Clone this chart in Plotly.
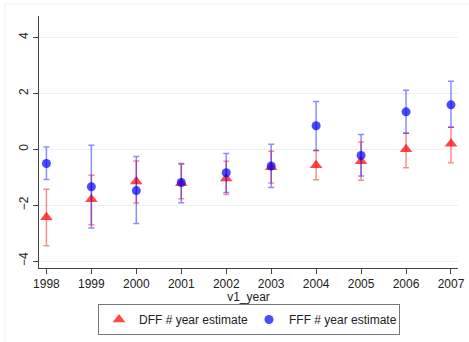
import plotly.graph_objects as go

years = [1998, 1999, 2000, 2001, 2002, 2003, 2004, 2005, 2006, 2007]

dff_est = [-2.43, -1.79, -1.15, -1.22, -1.05, -0.64, -0.57, -0.43, 0.00, 0.20]
dff_lo = [-3.45, -2.70, -1.92, -1.77, -1.62, -1.21, -1.09, -1.11, -0.66, -0.48]
dff_hi = [-1.43, -0.93, -0.42, -0.54, -0.43, -0.07, -0.04, 0.26, 0.57, 0.79]

fff_est = [-0.51, -1.34, -1.48, -1.19, -0.84, -0.60, 0.84, -0.22, 1.34, 1.59]
fff_lo = [-1.08, -2.82, -2.66, -1.91, -1.55, -1.37, -0.04, -0.96, 0.57, 0.79]
fff_hi = [0.08, 0.14, -0.26, -0.51, -0.15, 0.18, 1.71, 0.53, 2.11, 2.43]

y_ticks = [-4, -2, 0, 2, 4]
x_title = "v1_year"
names = ["DFF # year estimate", "FFF # year estimate"]

W, H = 469, 342
L, R, T, B = 39, 11, 16, 74
pw, ph = W - L - R, H - T - B

fig = go.Figure()
fig.add_trace(go.Scatter(
    x=years, y=dff_est, mode="markers", name=names[0],
    marker=dict(symbol="triangle-up", size=11, color="rgba(255,0,0,0.72)"),
    error_y=dict(type="data", symmetric=False,
                 array=[h - e for h, e in zip(dff_hi, dff_est)],
                 arrayminus=[e - l for e, l in zip(dff_est, dff_lo)],
                 color="rgba(255,0,0,0.45)", thickness=1.5, width=3),
))
fig.add_trace(go.Scatter(
    x=years, y=fff_est, mode="markers", name=names[1],
    marker=dict(symbol="circle", size=9, color="rgba(0,0,255,0.7)"),
    error_y=dict(type="data", symmetric=False,
                 array=[h - e for h, e in zip(fff_hi, fff_est)],
                 arrayminus=[e - l for e, l in zip(fff_est, fff_lo)],
                 color="rgba(0,0,255,0.45)", thickness=1.5, width=3),
))

font = "Liberation Sans, Arial, sans-serif"
fig.update_layout(
    width=W, height=H,
    margin=dict(l=L, r=R, t=T, b=B, autoexpand=False),
    paper_bgcolor="white", plot_bgcolor="white",
    font=dict(family=font, size=12, color="#222"),
    showlegend=True,
    legend=dict(orientation="h", x=249 / W, xref="container", xanchor="center",
                y=1 - 304 / H, yref="container", yanchor="top",
                bordercolor="#777", borderwidth=1, bgcolor="white",
                font=dict(size=12), itemwidth=30, tracegroupgap=0,
                entrywidth=105, entrywidthmode="pixels"),
    xaxis=dict(range=[1997.835, 2007.156], tickvals=years,
               showgrid=False, zeroline=False,
               showline=True, linecolor="#444", linewidth=1,
               ticks="outside", ticklen=5, tickcolor="#444",
               title=dict(text=x_title, standoff=0, font=dict(size=12))),
    yaxis=dict(range=[-4.25, 4.77], tickvals=y_ticks, tickangle=-90,
               showgrid=True, gridcolor="#eaf1f2", gridwidth=1,
               zeroline=False,
               showline=True, linecolor="#444", linewidth=1,
               ticks="outside", ticklen=5, tickcolor="#444"),
    shapes=[dict(type="rect", xref="paper", yref="paper",
                 x0=(5 - L) / pw, x1=(W + 5 - L) / pw,
                 y0=(T + ph - (H + 5)) / ph, y1=(T + ph - 4) / ph,
                 line=dict(color="#f0f0f0", width=1), layer="below")],
)

fig.write_html("out.html")
